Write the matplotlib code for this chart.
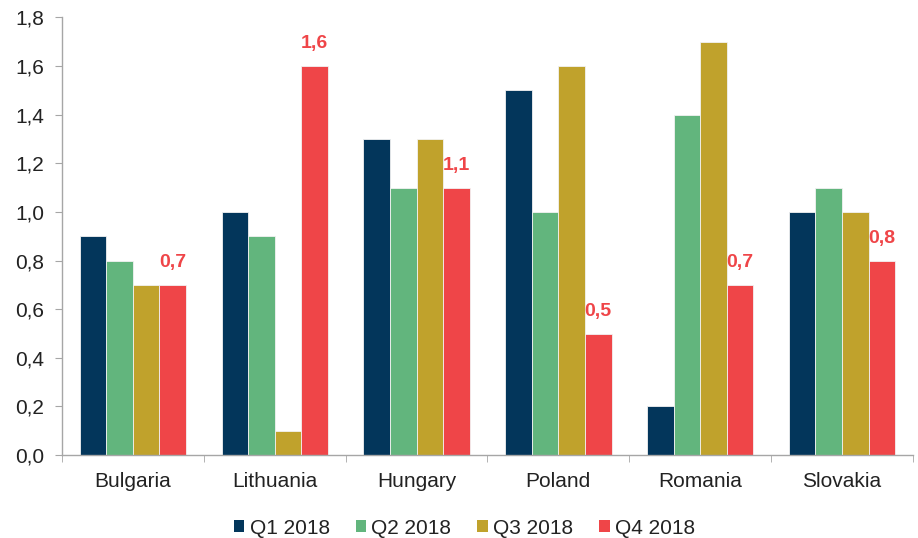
import matplotlib
matplotlib.use("Agg")
import matplotlib.pyplot as plt
from matplotlib.ticker import FuncFormatter, FixedLocator
import numpy as np

plt.rcParams['font.family'] = ['Liberation Sans', 'DejaVu Sans']

countries = ["Bulgaria", "Lithuania", "Hungary", "Poland", "Romania", "Slovakia"]
series_names = ["Q1 2018", "Q2 2018", "Q3 2018", "Q4 2018"]
q1 = [0.9, 1.0, 1.3, 1.5, 0.2, 1.0]
q2 = [0.8, 0.9, 1.1, 1.0, 1.4, 1.1]
q3 = [0.7, 0.1, 1.3, 1.6, 1.7, 1.0]
q4 = [0.7, 1.6, 1.1, 0.5, 0.7, 0.8]
colors = ["#03365B", "#62B57D", "#C0A22C", "#EF4548"]

fig = plt.figure(figsize=(9.18, 5.38), dpi=100)
ax = fig.add_axes([0.0675, 0.154, 0.927, 0.814])

x = np.arange(len(countries))
w = 0.1875
for i, (vals, name, c) in enumerate(zip([q1, q2, q3, q4], series_names, colors)):
    ax.bar(x + (i - 1.5) * w, vals, width=w, color=c, edgecolor="#f2f2f2",
           linewidth=0.6, label=name, zorder=2)

for xi, v in zip(x, q4):
    ax.annotate(f"{v:.1f}".replace(".", ","), (xi + 1.5 * w, v),
                xytext=(0, 10), textcoords="offset points", ha="center", va="bottom",
                color="#EF4548", fontsize=14, fontweight="bold")

ax.set_xlim(-0.5, len(countries) - 0.5)
ax.set_ylim(0, 1.8)
ax.set_yticks(np.arange(0, 1.81, 0.2))
ax.yaxis.set_major_formatter(FuncFormatter(lambda v, p: f"{v:.1f}".replace(".", ",")))
ax.set_xticks(x)
ax.set_xticklabels(countries)
ax.xaxis.set_minor_locator(FixedLocator(np.arange(-0.5, len(countries), 1.0)))
ax.tick_params(axis="x", which="major", length=0, pad=12, labelsize=15)
ax.tick_params(axis="x", which="minor", length=5, color="#a6a6a6", direction="out")
ax.tick_params(axis="y", length=5, color="#a6a6a6", labelsize=15, pad=8, labelcolor="#222222")
ax.tick_params(axis="x", labelcolor="#222222")

for s in ["top", "right"]:
    ax.spines[s].set_visible(False)
for s in ["left", "bottom"]:
    ax.spines[s].set_color("#a6a6a6")
    ax.spines[s].set_linewidth(1.0)

leg = fig.legend(loc="center", ncol=4, bbox_to_anchor=(0.506, 0.018), frameon=False,
                 fontsize=15, handlelength=0.5, handleheight=0.5, handletextpad=0.25,
                 columnspacing=1.25, labelcolor="#222222")
for h in leg.legend_handles:
    h.set_edgecolor("none")

fig.savefig("out.png", dpi=100)
